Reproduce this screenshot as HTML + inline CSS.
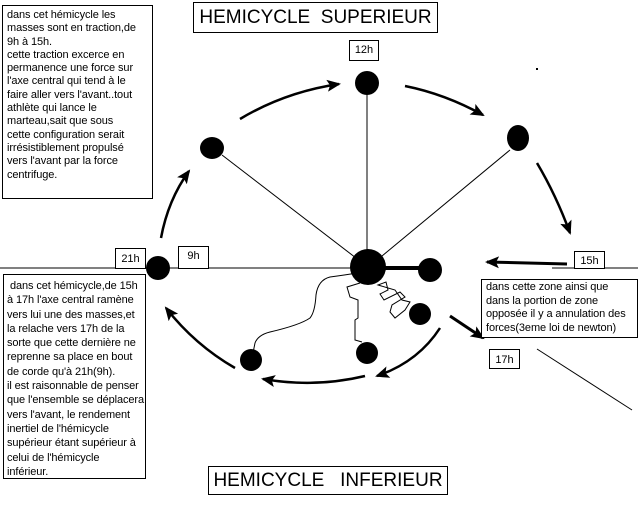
<!DOCTYPE html>
<html><head><meta charset="utf-8"><style>
body{margin:0;background:#fff;width:638px;height:512px;overflow:hidden;position:relative;font-family:"Liberation Sans",Arial,sans-serif;}
.b{position:absolute;border:1px solid #000;background:#fff;box-sizing:border-box;}
.t{font-size:11px;line-height:13.3px;padding:3px 4px;color:#000;white-space:nowrap;overflow:hidden;letter-spacing:-0.1px;}
.lab{font-size:11px;text-align:center;line-height:17px;}
.title{font-size:19px;text-align:center;white-space:nowrap;}
</style></head><body>
<svg width="638" height="512" style="position:absolute;left:0;top:0">
<defs><marker id="a2" markerWidth="14" markerHeight="12" refX="12" refY="6" orient="auto" markerUnits="userSpaceOnUse"><path d="M0,0 L14,6 L0,12 L3,6 Z" fill="#000"/></marker></defs>
<g stroke="#000" fill="none">
<line x1="0" y1="268" x2="360" y2="268" stroke-width="1"/>
<line x1="552" y1="268" x2="638" y2="268" stroke-width="1"/>
<line x1="367" y1="90" x2="367" y2="255" stroke-width="1"/>
<line x1="222" y1="155" x2="356" y2="258" stroke-width="1"/>
<line x1="510" y1="150" x2="382" y2="256" stroke-width="1"/>
<line x1="385" y1="268" x2="420" y2="268" stroke-width="4"/>
<line x1="537" y1="349" x2="632" y2="410" stroke-width="1"/>
<path d="M161,238 Q168,200 189,171" stroke-width="2.5" marker-end="url(#a2)"/>
<path d="M240,119 Q285,92 339,84" stroke-width="2.5" marker-end="url(#a2)"/>
<path d="M405,86 Q445,94 483,115" stroke-width="2.5" marker-end="url(#a2)"/>
<path d="M537,163 Q556,195 570,233" stroke-width="2.5" marker-end="url(#a2)"/>
<line x1="567" y1="264" x2="487" y2="262" stroke-width="3" marker-end="url(#a2)"/>
<line x1="450" y1="316" x2="483" y2="338" stroke-width="3" marker-end="url(#a2)"/>
<path d="M440,328 Q418,362 377,376" stroke-width="2.5" marker-end="url(#a2)"/>
<path d="M365,376 Q315,388 263,379" stroke-width="2.5" marker-end="url(#a2)"/>
<path d="M235,368 Q195,345 166,308" stroke-width="2.5" marker-end="url(#a2)"/>
<path d="M252,358 L255,343 Q258,335 270,332 Q300,325 310,318 Q315,312 316,295 Q318,280 330,277 Q345,275 357,273" stroke-width="1"/>
<path d="M360,283 L347,287 L350,297 L358,300 L358,318 L355,320 L355,340 L362,342" stroke-width="1"/>
<path d="M378,285 L386,282 L388,290 L380,294 L384,300 L400,292 L405,297 L392,305 L390,312 L395,318 L405,310 L410,302 L402,300 L395,290 Z" stroke-width="1"/>
</g>
<g fill="#000">
<ellipse cx="367" cy="83" rx="12" ry="12"/>
<ellipse cx="212" cy="148" rx="12" ry="11"/>
<ellipse cx="518" cy="138" rx="11" ry="13"/>
<ellipse cx="368" cy="267" rx="18" ry="18"/>
<ellipse cx="430" cy="270" rx="12" ry="12"/>
<ellipse cx="158" cy="268" rx="12" ry="12"/>
<ellipse cx="420" cy="314" rx="11" ry="11"/>
<ellipse cx="367" cy="353" rx="11" ry="11"/>
<ellipse cx="251" cy="360" rx="11" ry="11"/>
<rect x="536" y="68" width="2" height="2"/>
</g>
</svg>
<div class="b t" style="left:2px;top:5px;width:151px;height:194px;">dans cet hémicycle les<br>masses sont en traction,de<br>9h à 15h.<br>cette traction excerce en<br>permanence une force sur<br>l'axe central qui tend à le<br>faire aller vers l'avant..tout<br>athlète qui lance le<br>marteau,sait que sous<br>cette configuration serait<br>irrésistiblement propulsé<br>vers l'avant par la force<br>centrifuge.</div>
<div class="b title" style="left:193px;top:2px;width:245px;height:31px;line-height:30px;">HEMICYCLE&nbsp; SUPERIEUR</div>
<div class="b lab" style="left:349px;top:40px;width:30px;height:21px;line-height:19px;">12h</div>
<div class="b lab" style="left:115px;top:248px;width:31px;height:21px;line-height:21px;">21h</div>
<div class="b lab" style="left:178px;top:246px;width:31px;height:23px;line-height:18px;">9h</div>
<div class="b lab" style="left:574px;top:251px;width:31px;height:18px;line-height:19px;">15h</div>
<div class="b lab" style="left:489px;top:349px;width:31px;height:20px;line-height:20px;">17h</div>
<div class="b t" style="left:3px;top:274px;width:143px;height:205px;padding:4px 3px;line-height:14.3px;">&nbsp;dans cet hémicycle,de 15h<br>à 17h l'axe central ramène<br>vers lui une des masses,et<br>la relache vers 17h de la<br>sorte que cette dernière ne<br>reprenne sa place en bout<br>de corde qu'à 21h(9h).<br>il est raisonnable de penser<br>que l'ensemble se déplacera<br>vers l'avant, le rendement<br>inertiel de l'hémicycle<br>supérieur étant supérieur à<br>celui de l'hémicycle<br>inférieur.</div>
<div class="b t" style="left:481px;top:279px;width:157px;height:59px;padding:1px 4px;line-height:13.5px;">dans cette zone ainsi que<br>dans la portion de zone<br>opposée il y a annulation des<br>forces(3eme loi de newton)</div>
<div class="b title" style="left:208px;top:466px;width:240px;height:29px;line-height:28px;">HEMICYCLE&nbsp;&nbsp; INFERIEUR</div>
</body></html>
